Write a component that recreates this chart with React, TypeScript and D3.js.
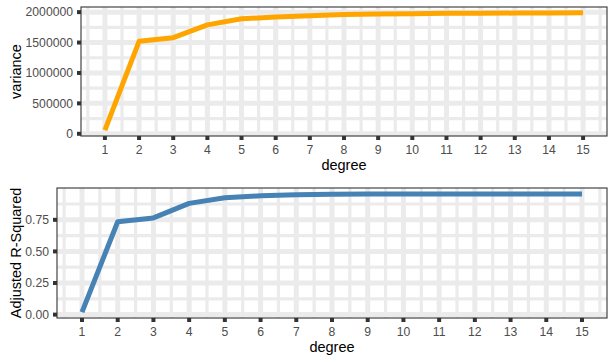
import React from "react";
import * as d3 from "d3";

const degrees = [1, 2, 3, 4, 5, 6, 7, 8, 9, 10, 11, 12, 13, 14, 15];
const varianceValues = [60000, 1520000, 1580000, 1790000, 1890000, 1920000, 1940000, 1960000, 1970000, 1975000, 1980000, 1982000, 1984000, 1986000, 1988000];
const adjR2Values = [0.02, 0.735, 0.765, 0.88, 0.925, 0.94, 0.948, 0.952, 0.954, 0.955, 0.955, 0.955, 0.955, 0.955, 0.955];
const varianceTicks = [0, 500000, 1000000, 1500000, 2000000];
const varianceMinor = [250000, 750000, 1250000, 1750000];
const r2Ticks = [0, 0.25, 0.5, 0.75];
const r2Minor = [0.125, 0.375, 0.625, 0.875];
const xMinor = [0.5, 1.5, 2.5, 3.5, 4.5, 5.5, 6.5, 7.5, 8.5, 9.5, 10.5, 11.5, 12.5, 13.5, 14.5, 15.5];

type PanelProps = {
  left: number; top: number; right: number; bottom: number;
  values: number[]; yTicks: number[]; yMinor: number[];
  fmt: (v: number) => string; color: string; yTitle: string; yTitleX: number;
};

function Panel(p: PanelProps) {
  const xmin = d3.min(degrees)!, xmax = d3.max(degrees)!;
  const xe = (xmax - xmin) * 0.05;
  const x = d3.scaleLinear().domain([xmin - xe, xmax + xe]).range([p.left, p.right]);
  const ymin = d3.min(p.values)!, ymax = d3.max(p.values)!;
  const ye = (ymax - ymin) * 0.05;
  const y = d3.scaleLinear().domain([ymin - ye, ymax + ye]).range([p.bottom, p.top]);
  const [d0, d1] = y.domain();
  const inY = (v: number) => v >= d0 && v <= d1;
  const line = d3.line<number>().x((_, i) => x(degrees[i])).y((v) => y(v));
  const grid = "#EBEBEB";
  const font = "Arial, 'Liberation Sans', sans-serif";
  return (
    <g>
      <rect x={p.left} y={p.top} width={p.right - p.left} height={p.bottom - p.top} fill="white" />
      <g clipPath={`url(#clip-${p.top})`}>
        <clipPath id={`clip-${p.top}`}>
          <rect x={p.left} y={p.top} width={p.right - p.left} height={p.bottom - p.top} />
        </clipPath>
        {p.yMinor.filter(inY).map((v) => (
          <line key={"ym" + v} x1={p.left} x2={p.right} y1={y(v)} y2={y(v)} stroke={grid} strokeWidth={3.2} />
        ))}
        {xMinor.map((v) => (
          <line key={"xm" + v} x1={x(v)} x2={x(v)} y1={p.top} y2={p.bottom} stroke={grid} strokeWidth={3.2} />
        ))}
        {p.yTicks.filter(inY).map((v) => (
          <line key={"yM" + v} x1={p.left} x2={p.right} y1={y(v)} y2={y(v)} stroke={grid} strokeWidth={5} />
        ))}
        {degrees.map((v) => (
          <line key={"xM" + v} x1={x(v)} x2={x(v)} y1={p.top} y2={p.bottom} stroke={grid} strokeWidth={5} />
        ))}
        <path d={line(p.values)!} fill="none" stroke={p.color} strokeWidth={5} strokeLinejoin="round" />
      </g>
      <rect x={p.left} y={p.top} width={p.right - p.left} height={p.bottom - p.top} fill="none" stroke="#333333" strokeWidth={1.1} />
      {p.yTicks.map((v) => (
        <g key={"yt" + v}>
          <line x1={p.left - 4} x2={p.left} y1={y(v)} y2={y(v)} stroke="#333333" strokeWidth={4} />
          <text x={p.left - 8} y={y(v)} dy="0.35em" textAnchor="end" fontSize={12.2} fill="#4D4D4D" fontFamily={font}>{p.fmt(v)}</text>
        </g>
      ))}
      {degrees.map((v) => (
        <g key={"xt" + v}>
          <line x1={x(v)} x2={x(v)} y1={p.bottom} y2={p.bottom + 4} stroke="#333333" strokeWidth={4} />
          <text x={x(v)} y={p.bottom + 18} textAnchor="middle" fontSize={12.2} fill="#4D4D4D" fontFamily={font}>{v}</text>
        </g>
      ))}
      <text x={(p.left + p.right) / 2} y={p.bottom + 34} textAnchor="middle" fontSize={14.5} fill="black" fontFamily={font}>degree</text>
      <text transform={`translate(${p.yTitleX},${(p.top + p.bottom) / 2}) rotate(-90)`} dy="0.35em" textAnchor="middle" fontSize={14.5} fill="black" fontFamily={font}>{p.yTitle}</text>
    </g>
  );
}

export default function App() {
  return (
    <svg width={615} height={363} style={{ position: "absolute", left: 0, top: 0 }}>
      <rect width={615} height={363} fill="white" />
      <Panel left={81} top={7} right={607} bottom={136} values={varianceValues} yTicks={varianceTicks} yMinor={varianceMinor}
        fmt={(v) => String(v)} color="#FFA500" yTitle="variance" yTitleX={16} />
      <Panel left={57} top={188} right={607} bottom={318} values={adjR2Values} yTicks={r2Ticks} yMinor={r2Minor}
        fmt={(v) => v.toFixed(2)} color="#4682B4" yTitle="Adjusted R-Squared" yTitleX={16} />
    </svg>
  );
}
